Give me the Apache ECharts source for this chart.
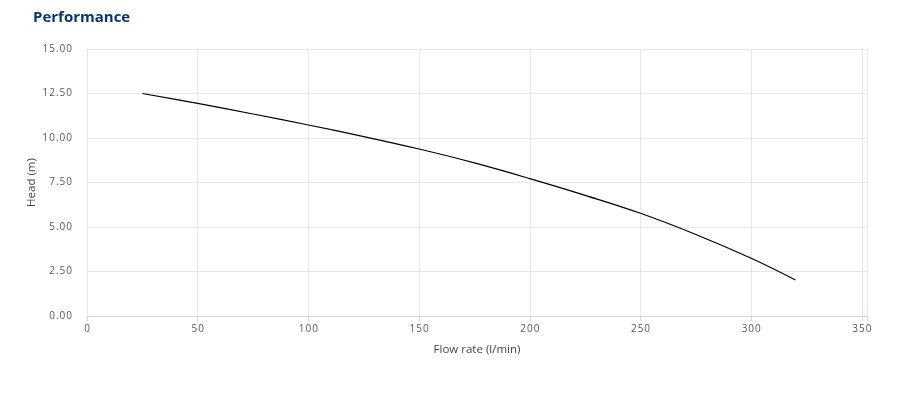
<!DOCTYPE html>
<html>
<head>
<meta charset="utf-8">
<script src="https://cdn.jsdelivr.net/npm/echarts@6/dist/echarts.min.js"></script>
<style>
html,body{margin:0;padding:0;background:#fff;}
#c{width:902px;height:400px;}
</style>
</head>
<body>
<div id="c"></div>
<script>
var flowRates = [25, 50, 75, 100, 125, 150, 175, 200, 225, 250, 275, 300, 320];
var heads = [12.5, 11.95, 11.35, 10.73, 10.08, 9.38, 8.6, 7.72, 6.78, 5.77, 4.58, 3.24, 2.02];
var xTicks = [0, 50, 100, 150, 200, 250, 300, 350];
var yTicks = [0, 2.5, 5, 7.5, 10, 12.5, 15];

var font = '"Open Sans", sans-serif';
var chart = echarts.init(document.getElementById('c'));
chart.setOption({
  animation: false,
  title: {
    text: 'Performance',
    left: 28, top: 5,
    textStyle: { fontFamily: font, fontSize: 15, fontWeight: 'bold', color: '#0b3474' }
  },
  grid: { left: 87, top: 49, right: 35, bottom: 84, containLabel: false },
  xAxis: {
    type: 'value',
    min: 0, max: 352.3,
    interval: 50,
    name: 'Flow rate (l/min)',
    nameLocation: 'middle',
    nameGap: 28,
    nameMoveOverlap: false,
    nameTextStyle: { fontFamily: font, fontSize: 11.5, color: '#444' },
    axisLine: { show: true, lineStyle: { color: '#ccd6eb', width: 1 } },
    axisTick: { show: true, length: 5, lineStyle: { color: '#ccd6eb' } },
    axisLabel: {
      fontFamily: font, fontSize: 10, color: '#555', margin: 8,
      formatter: function (v) { return xTicks.indexOf(v) >= 0 ? String(v).split('').join('\u200A') : ''; }
    },
    splitLine: { show: true, lineStyle: { color: '#e6e6ee', width: 1 } }
  },
  yAxis: {
    type: 'value',
    min: 0, max: 15, interval: 2.5,
    name: 'Head (m)',
    nameLocation: 'middle',
    nameGap: 49,
    nameMoveOverlap: false,
    nameTextStyle: { fontFamily: font, fontSize: 11.5, color: '#444' },
    axisLine: { show: false },
    axisTick: { show: false },
    axisLabel: {
      fontFamily: font, fontSize: 10, color: '#555', margin: 15,
      formatter: function (v) { return v.toFixed(2).split('').join('\u200A'); }
    },
    splitLine: { show: true, lineStyle: { color: '#e6e6e6', width: 1 } }
  },
  series: [{
    type: 'line',
    data: flowRates.map(function (x, i) { return [x, heads[i]]; }),
    smooth: 0.4,
    showSymbol: false,
    lineStyle: { color: '#000', width: 1.2 },
    itemStyle: { color: '#000' }
  }]
});
</script>
</body>
</html>
